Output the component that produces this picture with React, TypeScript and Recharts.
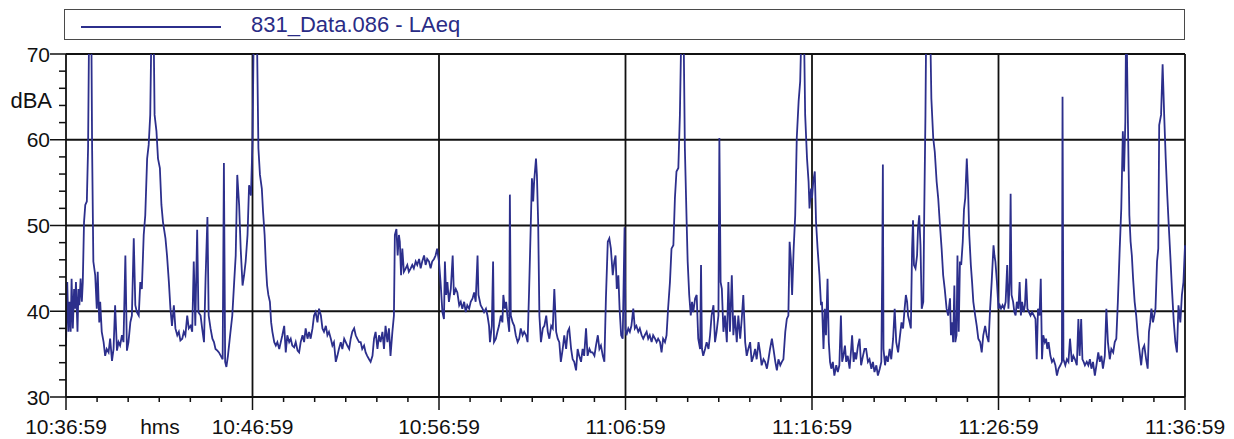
import { LineChart, Line, XAxis, YAxis, ReferenceLine, Legend } from 'recharts';

// LAeq samples: [seconds since 10:36:59, dBA] per 10-minute block
const block1: [number, number][] = [
  [0, 36.0], [4, 43.4], [8, 37.6], [11, 41.1], [15, 37.6], [18, 43.8], [22, 38.0], [26, 42.6], [29, 40.3], [32, 43.4],
  [37, 37.6], [40, 42.6], [43, 40.7], [47, 43.8], [51, 41.1], [54, 43.4], [58, 50.4], [62, 52.4], [67, 52.8], [71, 59.0],
  [75, 76], [81, 76], [84, 59.0], [88, 45.8], [94, 44.2], [99, 40.3], [102, 44.6], [107, 38.7], [110, 41.1], [115, 37.6],
  [121, 36.4], [126, 34.8], [131, 35.6], [137, 35.2], [142, 36.8], [148, 34.2], [153, 35.6], [158, 40.7], [164, 35.4], [169, 36.4],
  [174, 36.0], [180, 37.2], [185, 36.4], [191, 46.5], [196, 35.4], [201, 36.4], [207, 38.7], [212, 39.5], [218, 48.5], [223, 40.7],
  [228, 39.9], [234, 39.5], [239, 43.4], [244, 42.6], [250, 48.9], [255, 51.2], [261, 57.8], [266, 59.4], [271, 62.9], [276, 76],
  [281, 76], [285, 62.9], [291, 61.0], [296, 57.8], [302, 56.7], [307, 52.4], [312, 50.4], [320, 48.5], [325, 46.5], [331, 43.4],
  [336, 40.3], [341, 38.3], [347, 40.7], [352, 38.0], [358, 37.2], [363, 37.6], [368, 36.6], [374, 36.8], [379, 37.6], [384, 37.2],
  [390, 39.5], [395, 38.0], [401, 38.3], [406, 37.6], [411, 45.8], [416, 38.3], [422, 49.5], [426, 39.9], [433, 39.5], [438, 38.0],
  [444, 36.4], [449, 43.8], [455, 51.0], [459, 39.5], [465, 38.0], [471, 36.8], [476, 36.4], [481, 35.6], [487, 35.4], [492, 35.2],
  [498, 34.8], [504, 34.4], [508, 57.3], [512, 34.1], [516, 33.5], [521, 34.8], [528, 37.2], [535, 39.5], [541, 43.4], [546, 46.5],
  [551, 55.9], [557, 52.4], [562, 47.3], [568, 43.0], [573, 44.2], [578, 45.8], [584, 48.9], [589, 54.7], [595, 53.5],
];

const block2: [number, number][] = [
  [600, 59.8], [605, 76], [613, 76], [619, 59.0], [624, 55.9], [630, 54.3], [634, 51.6], [639, 48.9], [643, 45.4], [647, 43.0],
  [651, 41.9], [656, 41.1], [660, 38.7], [664, 37.6], [670, 36.4], [675, 36.0], [680, 36.4], [686, 35.6], [691, 36.4], [696, 37.2],
  [702, 38.3], [707, 35.2], [712, 37.2], [718, 36.4], [723, 36.8], [728, 36.0], [734, 35.8], [739, 36.4], [745, 35.4], [750, 35.2],
  [755, 36.4], [761, 37.2], [766, 36.4], [771, 38.0], [777, 36.8], [782, 37.6], [787, 36.8], [793, 38.0], [798, 39.5], [803, 39.9],
  [809, 38.7], [814, 40.3], [820, 39.5], [825, 38.0], [830, 37.6], [836, 38.3], [841, 37.2], [846, 37.6], [852, 36.8], [857, 36.0],
  [862, 36.4], [868, 34.1], [873, 34.8], [878, 35.6], [884, 36.4], [889, 35.6], [895, 36.8], [900, 36.4], [905, 36.0], [911, 35.6],
  [916, 36.8], [921, 37.6], [927, 38.0], [932, 37.2], [937, 36.8], [943, 36.4], [948, 36.4], [953, 35.6], [959, 36.0], [964, 35.2],
  [969, 34.8], [975, 34.4], [980, 34.1], [986, 34.8], [991, 36.8], [996, 37.6], [1002, 35.6], [1007, 37.2], [1012, 36.4], [1018, 37.6],
  [1023, 35.6], [1028, 38.3], [1034, 36.4], [1039, 38.0], [1044, 34.8], [1050, 37.6], [1055, 39.5], [1058, 48.9], [1063, 49.6], [1067, 46.5],
  [1071, 48.9], [1074, 48.1], [1078, 44.2], [1082, 47.3], [1087, 44.6], [1093, 45.0], [1098, 45.4], [1103, 44.6], [1109, 45.0], [1114, 45.4],
  [1119, 45.0], [1125, 45.8], [1130, 45.4], [1136, 46.1], [1141, 45.0], [1146, 45.8], [1152, 46.5], [1157, 45.4], [1162, 46.1], [1168, 45.8],
  [1173, 45.0], [1178, 45.8], [1184, 46.1], [1189, 46.5], [1194, 47.3],
];

const block3: [number, number][] = [
  [1200, 45.8], [1205, 43.4], [1211, 39.9], [1216, 39.1], [1219, 45.8], [1223, 41.9], [1227, 43.4], [1232, 41.1], [1238, 42.6], [1244, 46.5],
  [1248, 41.9], [1254, 42.6], [1259, 42.2], [1265, 40.7], [1270, 41.1], [1275, 40.3], [1281, 41.1], [1286, 39.9], [1291, 40.7], [1297, 40.3],
  [1302, 41.1], [1308, 41.5], [1313, 42.2], [1318, 41.1], [1324, 46.5], [1327, 41.9], [1334, 40.7], [1340, 40.3], [1345, 39.9], [1351, 40.3],
  [1356, 39.5], [1361, 38.3], [1364, 36.4], [1370, 38.3], [1374, 45.8], [1377, 36.4], [1383, 36.8], [1388, 37.6], [1393, 38.3], [1399, 39.5],
  [1404, 38.7], [1407, 41.9], [1412, 40.3], [1416, 41.1], [1420, 39.5], [1426, 37.6], [1428, 53.6], [1431, 39.5], [1437, 38.7], [1442, 38.3],
  [1447, 37.2], [1453, 36.4], [1458, 36.8], [1463, 38.0], [1469, 37.2], [1474, 37.6], [1480, 37.2], [1485, 36.4], [1490, 42.6], [1496, 51.2],
  [1499, 55.5], [1503, 52.8], [1506, 55.1], [1512, 57.8], [1515, 55.9], [1519, 50.4], [1523, 39.5], [1528, 36.4], [1534, 38.0], [1539, 38.3],
  [1545, 39.5], [1550, 37.6], [1555, 36.8], [1561, 38.3], [1566, 38.0], [1571, 42.6], [1577, 37.6], [1582, 36.8], [1587, 36.4], [1592, 34.1],
  [1598, 35.6], [1603, 37.2], [1609, 35.6], [1614, 37.6], [1619, 38.0], [1625, 35.6], [1630, 34.4], [1635, 34.1], [1641, 33.1], [1646, 35.6],
  [1651, 34.8], [1657, 34.1], [1662, 35.6], [1667, 34.8], [1673, 38.0], [1678, 34.8], [1684, 35.6], [1689, 35.2], [1694, 35.2], [1700, 34.8],
  [1705, 36.0], [1711, 37.2], [1716, 35.6], [1721, 36.0], [1727, 34.8], [1732, 34.1], [1737, 41.5], [1743, 48.1], [1748, 48.5], [1753, 47.3],
  [1759, 44.2], [1764, 45.8], [1768, 46.5], [1772, 42.6], [1777, 44.2], [1781, 40.3], [1786, 37.2], [1791, 36.8], [1797, 49.8],
];

const block4: [number, number][] = [
  [1800, 38.0], [1803, 37.2], [1809, 38.0], [1814, 37.6], [1819, 38.3], [1825, 40.3], [1830, 38.0], [1835, 38.3], [1841, 37.6], [1846, 38.0],
  [1852, 37.2], [1857, 36.8], [1862, 37.2], [1868, 37.6], [1873, 36.8], [1878, 37.2], [1884, 36.4], [1889, 37.2], [1895, 36.8], [1900, 36.4],
  [1905, 36.8], [1911, 36.4], [1916, 35.2], [1921, 36.8], [1927, 36.4], [1932, 37.2], [1937, 40.3], [1943, 43.4], [1948, 47.3], [1954, 47.7],
  [1959, 53.2], [1964, 56.3], [1970, 56.7], [1975, 62.9], [1981, 76], [1986, 76], [1991, 59.0], [1997, 50.0], [2000, 45.8], [2005, 41.9],
  [2010, 39.5], [2014, 41.1], [2018, 39.9], [2024, 41.5], [2029, 41.9], [2034, 36.8], [2040, 35.6], [2043, 45.4], [2046, 35.6], [2050, 34.8],
  [2056, 35.6], [2061, 36.4], [2067, 35.6], [2072, 37.2], [2077, 39.5], [2083, 40.7], [2088, 36.4], [2093, 37.6], [2099, 39.5], [2102, 60.2],
  [2106, 43.4], [2110, 42.6], [2115, 37.6], [2120, 39.5], [2126, 36.4], [2131, 43.4], [2136, 37.6], [2142, 44.2], [2147, 37.2], [2152, 39.5],
  [2158, 36.4], [2163, 39.5], [2169, 36.8], [2174, 39.1], [2179, 41.9], [2185, 36.4], [2190, 34.8], [2195, 35.6], [2201, 36.4], [2206, 34.1],
  [2212, 34.8], [2217, 35.6], [2222, 34.4], [2228, 36.4], [2233, 35.2], [2238, 33.7], [2244, 34.4], [2249, 34.1], [2255, 33.3], [2260, 34.4],
  [2265, 35.6], [2271, 36.8], [2276, 35.6], [2282, 34.1], [2287, 33.1], [2292, 34.4], [2298, 33.7], [2303, 34.1], [2308, 34.4], [2314, 37.6],
  [2319, 39.1], [2324, 39.5], [2328, 48.1], [2332, 46.1], [2336, 41.9], [2341, 47.3], [2346, 51.2], [2351, 60.2], [2357, 64.5], [2362, 66.8],
  [2368, 76], [2373, 76], [2378, 62.9], [2384, 57.8], [2389, 55.1], [2392, 52.0], [2397, 54.3],
];

const block5: [number, number][] = [
  [2400, 53.2], [2404, 55.1], [2409, 56.3], [2413, 50.4], [2418, 47.3], [2424, 44.2], [2429, 40.7], [2432, 41.1], [2437, 35.6], [2441, 40.3],
  [2445, 37.2], [2450, 43.8], [2454, 36.4], [2458, 34.1], [2462, 33.3], [2467, 34.1], [2472, 32.5], [2478, 33.7], [2483, 32.9], [2488, 33.7],
  [2493, 39.5], [2497, 34.1], [2501, 34.8], [2506, 36.0], [2510, 34.1], [2515, 34.8], [2521, 33.3], [2526, 35.6], [2529, 37.2], [2534, 34.1],
  [2538, 35.2], [2542, 34.4], [2548, 36.0], [2553, 36.8], [2558, 33.7], [2564, 34.8], [2569, 35.6], [2574, 35.6], [2580, 34.1], [2585, 34.4],
  [2591, 33.3], [2596, 34.1], [2601, 32.9], [2607, 33.7], [2612, 32.5], [2618, 33.3], [2623, 34.1], [2626, 45.4], [2628, 57.1], [2630, 35.6],
  [2635, 33.7], [2639, 34.8], [2644, 34.1], [2650, 35.6], [2655, 34.4], [2661, 36.8], [2666, 40.3], [2671, 36.4], [2677, 35.2], [2682, 36.8],
  [2688, 38.7], [2693, 38.0], [2698, 40.3], [2702, 41.9], [2706, 41.1], [2709, 39.5], [2714, 38.7], [2718, 38.0], [2722, 47.3], [2725, 50.6],
  [2728, 45.4], [2733, 45.0], [2738, 46.5], [2741, 49.6], [2745, 51.2], [2749, 47.7], [2753, 40.3], [2758, 41.1], [2761, 51.2], [2765, 62.9],
  [2768, 76], [2779, 76], [2784, 64.8], [2790, 60.2], [2795, 58.6], [2801, 55.1], [2806, 53.2], [2811, 50.4], [2817, 47.3], [2822, 44.2],
  [2827, 42.6], [2833, 40.3], [2838, 39.5], [2844, 41.5], [2847, 37.2], [2851, 38.7], [2854, 36.4], [2858, 43.0], [2861, 36.4], [2865, 37.2],
  [2868, 46.5], [2872, 37.6], [2876, 45.8], [2880, 45.4], [2885, 48.1], [2889, 51.9], [2893, 53.2], [2898, 57.8], [2902, 54.3], [2906, 48.9],
  [2911, 45.4], [2915, 43.4], [2919, 41.1], [2925, 39.5], [2930, 38.3], [2935, 36.8], [2941, 36.4], [2946, 35.2], [2951, 37.2], [2957, 38.3],
  [2962, 37.2], [2968, 36.4], [2973, 40.3], [2978, 43.4], [2984, 47.7], [2987, 46.5], [2990, 45.8], [2995, 43.4],
];

const block6: [number, number][] = [
  [3000, 40.3], [3004, 40.7], [3008, 40.3], [3013, 40.7], [3018, 40.3], [3023, 41.1], [3028, 45.4], [3032, 40.3], [3036, 43.4], [3039, 53.7],
  [3042, 41.9], [3047, 41.1], [3051, 39.9], [3055, 39.5], [3059, 41.1], [3064, 40.3], [3068, 43.4], [3072, 39.5], [3076, 41.1], [3081, 39.9],
  [3085, 40.7], [3089, 43.8], [3093, 40.3], [3098, 39.9], [3103, 39.5], [3108, 39.9], [3114, 39.5], [3119, 39.1], [3123, 34.4], [3127, 40.3],
  [3132, 39.5], [3136, 43.8], [3140, 34.4], [3144, 37.2], [3149, 36.4], [3153, 36.8], [3157, 35.6], [3161, 36.4], [3167, 34.8], [3172, 34.1],
  [3177, 34.4], [3183, 33.7], [3188, 32.5], [3193, 33.3], [3199, 33.7], [3204, 34.1], [3206, 65.0], [3209, 34.4], [3215, 33.7], [3220, 34.4],
  [3225, 34.1], [3230, 36.8], [3236, 34.1], [3241, 34.8], [3246, 34.4], [3252, 33.7], [3257, 39.1], [3261, 34.8], [3266, 39.1], [3270, 34.4],
  [3274, 34.1], [3278, 33.7], [3284, 34.1], [3289, 33.7], [3294, 34.4], [3299, 33.3], [3304, 34.1], [3310, 32.5], [3315, 33.7], [3321, 35.2],
  [3326, 34.1], [3331, 34.8], [3336, 33.3], [3342, 34.8], [3347, 40.3], [3352, 36.4], [3358, 34.4], [3363, 35.6], [3369, 35.2], [3374, 36.4],
  [3379, 36.8], [3384, 41.1], [3390, 47.3], [3395, 52.0], [3400, 61.0], [3404, 56.3], [3408, 62.1], [3411, 76], [3416, 62.9], [3421, 51.2],
  [3425, 48.1], [3429, 46.5], [3433, 43.8], [3438, 41.1], [3443, 39.5], [3448, 37.2], [3453, 35.6], [3459, 33.7], [3464, 35.6], [3469, 36.0],
  [3475, 34.4], [3480, 33.3], [3484, 37.6], [3488, 38.7], [3492, 40.3], [3497, 38.7], [3501, 39.5], [3505, 40.3], [3510, 45.8], [3514, 47.3],
  [3517, 61.7], [3523, 62.9], [3528, 68.8], [3533, 62.9], [3538, 57.8], [3543, 53.5], [3548, 49.8], [3553, 46.3], [3558, 42.6], [3564, 38.7],
  [3569, 36.4], [3574, 35.2], [3579, 40.7], [3585, 38.7], [3590, 41.9], [3595, 43.4], [3600, 47.7],
];

const seriesName = '831_Data.086 - LAeq';
const timeTicks = [0, 600, 1200, 1800, 2400, 3000, 3600];
const timeLabels = ['10:36:59', '10:46:59', '10:56:59', '11:06:59', '11:16:59', '11:26:59', '11:36:59'];
const minorTimeTicks = Array.from({ length: 37 }, (_, i) => i * 100);
const levelTicks = Array.from({ length: 21 }, (_, i) => 30 + i * 2);
const levelGrid = [40, 50, 60, 70];

const data = [...block1, ...block2, ...block3, ...block4, ...block5, ...block6].map(([t, v]) => ({ t, laeq: v }));

const FONT = '"Liberation Sans", Arial, sans-serif';
const LINE_COLOR = '#2c2f8c';
const INK = '#111';

const TimeTick = (props: any) => {
  const { x, y, payload } = props;
  const idx = timeTicks.indexOf(payload.value);
  const major = idx >= 0;
  return (
    <g>
      <line x1={x} x2={x} y1={y} y2={y + (major ? 13 : 5)} stroke={INK} strokeWidth={1.5} />
      {major && (
        <text x={x} y={y + 37} textAnchor="middle" fontSize={21} fontFamily={FONT} fill={INK}>
          {timeLabels[idx]}
        </text>
      )}
    </g>
  );
};

const LevelTick = (props: any) => {
  const { x, y, payload } = props;
  const major = payload.value % 10 === 0;
  return (
    <g>
      <line x1={x - (major ? 16 : 7)} x2={x} y1={y} y2={y} stroke={INK} strokeWidth={1.5} />
      {major && (
        <text x={x - 16} y={y + 7.5} textAnchor="end" fontSize={21} fontFamily={FONT} fill={INK}>
          {payload.value}
        </text>
      )}
    </g>
  );
};

const LegendBox = (props: any) => {
  const item = props.payload && props.payload[0];
  return (
    <div
      style={{
        boxSizing: 'border-box',
        width: 1121,
        height: 31,
        border: '1.6px solid #4a4a4a',
        position: 'relative',
        fontFamily: FONT,
        background: '#fff',
      }}
    >
      <svg width={160} height={30} style={{ position: 'absolute', left: 0, top: 0 }}>
        <line x1={16} x2={156} y1={17} y2={17} stroke={item ? item.color : LINE_COLOR} strokeWidth={1.8} />
      </svg>
      <span
        style={{
          position: 'absolute',
          left: 186,
          top: 2,
          fontSize: 22,
          lineHeight: '26px',
          color: '#2a2c86',
          whiteSpace: 'nowrap',
        }}
      >
        {item ? item.value : seriesName}
      </span>
    </div>
  );
};

export default function App() {
  return (
    <div style={{ position: 'absolute', left: 0, top: 0, width: 1234, height: 439, background: '#fff', fontFamily: FONT }}>
      <LineChart width={1234} height={439} data={data} margin={{ top: 54, right: 49, bottom: 0, left: 0 }}>
        <XAxis
          dataKey="t"
          type="number"
          domain={[0, 3600]}
          ticks={minorTimeTicks}
          interval={0}
          height={42}
          tickSize={0}
          tickMargin={0}
          tickLine={false}
          tick={<TimeTick />}
          axisLine={{ stroke: INK, strokeWidth: 1.8 }}
          label={{
            content: (p: any) => (
              <text x={p.viewBox.x + 94} y={p.viewBox.y + 37} textAnchor="middle" fontSize={21} fontFamily={FONT} fill={INK}>
                hms
              </text>
            ),
          }}
        />
        <YAxis
          type="number"
          domain={[30, 70]}
          allowDataOverflow
          ticks={levelTicks}
          interval={0}
          width={66}
          tickSize={0}
          tickMargin={0}
          tickLine={false}
          tick={<LevelTick />}
          axisLine={{ stroke: INK, strokeWidth: 1.8 }}
          label={{
            content: (p: any) => (
              <text x={p.viewBox.x + 52} y={p.viewBox.y + 54} textAnchor="end" fontSize={22} fontFamily={FONT} fill={INK}>
                dBA
              </text>
            ),
          }}
        />
        {levelGrid.map((v) => (
          <ReferenceLine key={`h${v}`} y={v} stroke={INK} strokeWidth={1.8} />
        ))}
        {timeTicks.slice(1).map((t) => (
          <ReferenceLine key={`v${t}`} x={t} stroke={INK} strokeWidth={1.8} />
        ))}
        <Legend
          verticalAlign="middle"
          align="center"
          layout="horizontal"
          content={<LegendBox />}
          wrapperStyle={{ top: 9, left: 64, width: 1121, height: 31 }}
        />
        <Line
          type="linear"
          dataKey="laeq"
          name={seriesName}
          stroke={LINE_COLOR}
          strokeWidth={1.8}
          dot={false}
          isAnimationActive={false}
        />
      </LineChart>
    </div>
  );
}
